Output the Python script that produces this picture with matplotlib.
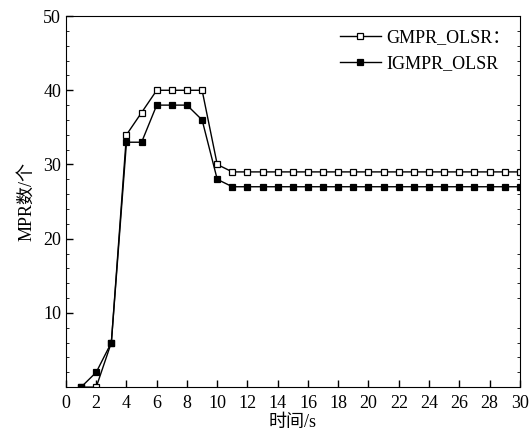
import matplotlib
matplotlib.use('Agg')
import matplotlib.pyplot as plt
from matplotlib.ticker import MultipleLocator

plt.rcParams['font.family'] = ['Liberation Serif', 'Noto Sans CJK SC']
plt.rcParams['mathtext.fontset'] = 'stix'

t = list(range(1, 31))
gmpr = [0, 0, 6, 34, 37, 40, 40, 40, 40, 30] + [29] * 20
igmpr = [0, 2, 6, 33, 33, 38, 38, 38, 36, 28] + [27] * 20

fig = plt.figure(figsize=(5.32, 4.34), dpi=100)
ax = fig.add_axes([0.124, 0.108, 0.853, 0.855])

ax.plot(t, gmpr, '-s', color='black', mfc='white', mec='black', ms=5, mew=0.9, lw=1, label='GMPR_OLSR：')
ax.plot(t, igmpr, '-s', color='black', mfc='black', mec='black', ms=5, mew=0.9, lw=1, label='IGMPR_OLSR')

ax.set_xlim(0, 30)
ax.set_ylim(0, 50)
ax.xaxis.set_major_locator(MultipleLocator(2))
ax.set_yticks([10, 20, 30, 40, 50])
ax.yaxis.set_minor_locator(MultipleLocator(2))
ax.tick_params(axis='both', which='both', direction='in', labelsize=13)
ax.tick_params(axis='y', which='major', length=5, width=1)
ax.tick_params(axis='y', which='minor', length=2, width=0.6, right=True)
ax.tick_params(axis='x', which='major', length=5, width=1, pad=6)

ax.set_xlabel('时间/s', fontsize=13, labelpad=1)
ax.set_ylabel('MPR数/个', fontsize=13, labelpad=6)

ax.legend(loc='upper right', bbox_to_anchor=(0.995, 0.984), frameon=False, fontsize=13,
          handlelength=2.25, handletextpad=0.3, labelspacing=0.5, borderaxespad=0,
          markerscale=0.8)

fig.savefig('out.png', dpi=100)
